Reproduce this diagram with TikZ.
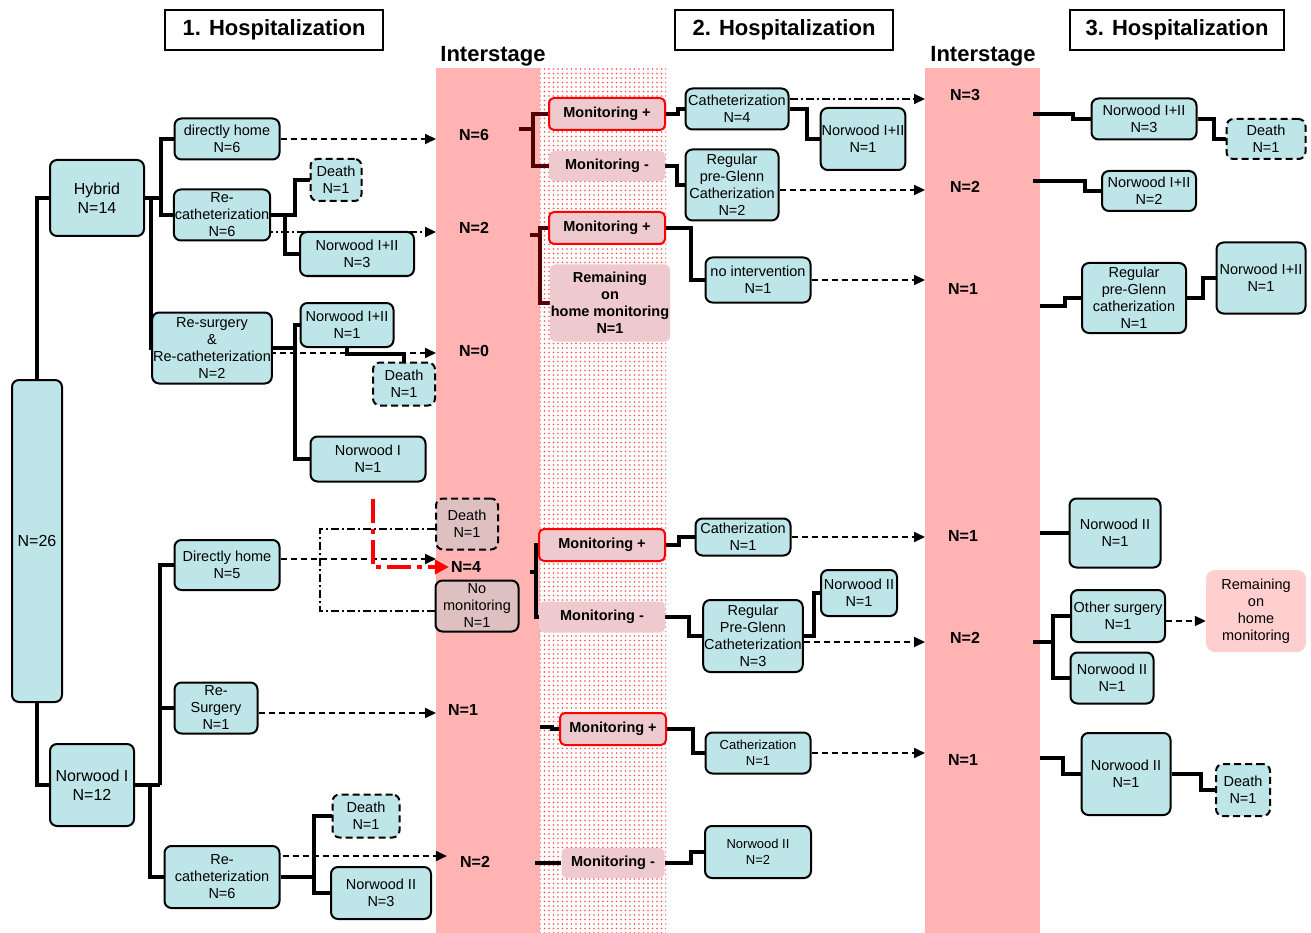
\documentclass[tikz,border=0pt]{standalone}
\usepackage{fontspec}
\setmainfont{Liberation Sans}
\usetikzlibrary{arrows.meta,patterns.meta,backgrounds}

\definecolor{boxcyan}{RGB}{190,229,232}
\definecolor{colpink}{RGB}{255,179,179}
\definecolor{rosy}{RGB}{222,192,192}
\definecolor{monfill}{RGB}{238,202,206}
\definecolor{remfill}{RGB}{255,207,207}
\definecolor{maroon}{RGB}{85,0,0}

\newcommand{\bxf}{\fontsize{14.5}{17}\selectfont}
\newcommand{\lgf}{\fontsize{16}{19}\selectfont}
\newcommand{\smf}{\fontsize{13}{16}\selectfont}
\newcommand{\bdf}{\fontsize{14.5}{17}\selectfont\bfseries}
\newcommand{\numf}{\fontsize{16}{19}\selectfont\bfseries}
\newcommand{\hdf}{\fontsize{22}{26}\selectfont\bfseries}

\tikzset{
  box/.style={draw, line width=2pt, rounded corners=7pt, fill=boxcyan, align=center, inner sep=1pt, font=\bxf},
  wh/.style 2 args={minimum width=#1, minimum height=#2},
  deathbox/.style={box, dash pattern=on 7pt off 4pt},
  rosybox/.style={box, fill=rosy},
  mon/.style={fill=monfill, rounded corners=5pt, align=center, inner sep=1pt, font=\bdf},
  monplus/.style={mon, draw=red, line width=2pt},
  num/.style={font=\numf, inner sep=2pt},
  hdbox/.style={draw, line width=1.5pt, font=\hdf},
  conn/.style={line width=4pt},
  brconn/.style={conn, draw=maroon},
  dasharr/.style={line width=2pt, dash pattern=on 6pt off 4pt, -{Triangle[length=11pt,width=10pt]}},
  ddarr/.style={dasharr, dash pattern=on 8pt off 3pt on 2pt off 3pt},
  ddthin/.style={line width=1.3pt, dash pattern=on 8pt off 3pt on 2pt off 3pt},
  redarr/.style={red, line width=4pt, dash pattern=on 24pt off 6pt on 5pt off 6pt, -{Triangle[length=14pt,width=14pt]}},
}

\begin{document}
\begin{tikzpicture}[x=1pt,y=-1pt]
\useasboundingbox (0,0) rectangle (1311,933);
% columns
\begin{scope}[on background layer]
\node[fill=colpink, wh={104}{865}, anchor=north west, inner sep=0pt, outer sep=0pt] (col1) at (436,68) {};
\node[pattern={Dots[radius=0.8pt,distance=4.5pt]}, pattern color=red!70, wh={126}{865}, anchor=north west, inner sep=0pt, outer sep=0pt] (dotcol) at (540,68) {};
\node[fill=colpink, wh={115}{865}, anchor=north west, inner sep=0pt, outer sep=0pt] (col2) at (925,68) {};
\end{scope}

% headers
\node[hdbox, wh={218}{40}] (hd1) at (274,30) {1. Hospitalization};
\node[hdbox, wh={218}{40}] (hd2) at (784,30) {2. Hospitalization};
\node[hdbox, wh={214}{40}] (hd3) at (1177,30) {3. Hospitalization};
\node[font=\hdf] (is1) at (493,56) {Interstage};
\node[font=\hdf] (is2) at (983,56) {Interstage};

% 1. hospitalization
\node[box, font=\lgf, wh={50}{322}] (n26) at (37,541) {N=26};
\node[box, font=\lgf, wh={94}{76}] (hyb) at (97,198) {Hybrid\\N=14};
\node[box, font=\lgf, wh={84}{82}] (nw1) at (92,785) {Norwood I\\N=12};
\node[box, wh={105}{41}] (dh6) at (227,139) {directly home\\N=6};
\node[box, wh={95}{51}] (rc6) at (222,215) {Re-\\catheterization\\N=6};
\node[box, wh={115}{71}] (rs2) at (212,348) {Re-surgery\\\&\\Re-catheterization\\N=2};
\node[deathbox, wh={51}{42}] (d1) at (336,180) {Death\\N=1};
\node[box, wh={114}{44}] (n12a) at (357,254) {Norwood I+II\\N=3};
\node[box, wh={93}{44}] (n12b) at (347,325) {Norwood I+II\\N=1};
\node[deathbox, wh={62}{43}] (d2) at (404,384) {Death\\N=1};
\node[box, wh={115}{45}] (nwI) at (368,459) {Norwood I\\N=1};
\node[box, wh={105}{50}] (dh5) at (227,565) {Directly home\\N=5};
\node[box, wh={83}{51}] (rsg) at (216,708) {Re-\\Surgery\\N=1};
\node[box, wh={115}{62}] (rc6b) at (222,877) {Re-\\catheterization\\N=6};
\node[deathbox, wh={67}{43}] (d3) at (366,816) {Death\\N=1};
\node[box, wh={100}{52}] (nw2a) at (381,893) {Norwood II\\N=3};

% interstage 1
\node[num] (c1a) at (474,135) {N=6};
\node[num] (c1b) at (474,228) {N=2};
\node[num] (c1c) at (474,351) {N=0};
\node[deathbox, fill=rosy, wh={62}{51}] (d4) at (467,524) {Death\\N=1};
\node[num] (c1d) at (466,567) {N=4};
\node[rosybox, wh={83}{51}] (nomon) at (477,606) {No\\monitoring\\N=1};
\node[num] (c1e) at (463,710) {N=1};
\node[num] (c1f) at (475,862) {N=2};

\node[monplus, wh={116}{32}] (mp1) at (607,114) {Monitoring +};
\node[mon, wh={116}{30}] (mm1) at (607,166) {Monitoring -};
\node[monplus, wh={116}{32}] (mp2) at (607,228) {Monitoring +};
\node[mon, wh={116}{77}] (rem1) at (610,303) {Remaining\\on\\home monitoring\\N=1};
\node[monplus, wh={126}{32}] (mp3) at (602,545) {Monitoring +};
\node[mon, wh={126}{31}] (mm3) at (602,617) {Monitoring -};
\node[monplus, wh={106}{32}] (mp4) at (613,729) {Monitoring +};
\node[mon, wh={103}{30}] (mm5) at (613,863) {Monitoring -};

% 2. hospitalization
\node[box, wh={103}{41}] (cat4) at (737,109) {Catheterization\\N=4};
\node[box, wh={84}{62}] (n12c) at (863,139) {Norwood I+II\\N=1};
\node[box, wh={93}{71}] (rpg2) at (732,185) {Regular\\pre-Glenn\\Catherization\\N=2};
\node[box, wh={105}{45}] (noint) at (758,280) {no intervention\\N=1};
\node[box, wh={95}{37}] (cat1) at (743,537) {Catherization\\N=1};
\node[box, wh={95}{72}] (rpg3) at (753,636) {Regular\\Pre-Glenn\\Catheterization\\N=3};
\node[box, wh={76}{46}] (nw2b) at (859,593) {Norwood II\\N=1};
\node[box, font=\smf, wh={105}{41}] (cat1b) at (758,753) {Catherization\\N=1};
\node[box, font=\smf, wh={106}{52}] (nw2c) at (758,852) {Norwood II\\N=2};

% interstage 2
\node[num] (c2a) at (965,95) {N=3};
\node[num] (c2b) at (965,187) {N=2};
\node[num] (c2c) at (963,289) {N=1};
\node[num] (c2d) at (963,536) {N=1};
\node[num] (c2e) at (965,638) {N=2};
\node[num] (c2f) at (963,760) {N=1};

% 3. hospitalization
\node[box, wh={105}{41}] (n12d) at (1144,119) {Norwood I+II\\N=3};
\node[deathbox, wh={79}{40}] (d5) at (1266,139) {Death\\N=1};
\node[box, wh={94}{40}] (n12e) at (1149,191) {Norwood I+II\\N=2};
\node[box, wh={104}{70}] (rpg1) at (1134,298) {Regular\\pre-Glenn\\catherization\\N=1};
\node[box, wh={89}{71}] (n12f) at (1261,278) {Norwood I+II\\N=1};
\node[box, wh={91}{69}] (nw2d) at (1115,533) {Norwood II\\N=1};
\node[box, wh={94}{52}] (osg) at (1118,616) {Other surgery\\N=1};
\node[box, wh={83}{51}] (nw2e) at (1112,678) {Norwood II\\N=1};
\node[fill=remfill, rounded corners=9pt, align=center, font=\bxf, wh={100}{82}] (remh) at (1256,611) {Remaining\\on\\home\\monitoring};
\node[box, wh={89}{82}] (nw2f) at (1126,774) {Norwood II\\N=1};
\node[deathbox, wh={54}{52}] (d6) at (1243,790) {Death\\N=1};

\begin{scope}[on background layer]
% tree of the first stay
\draw[conn] (n26.north) |- (hyb.west);
\draw[conn] (n26.south) |- (nw1.west);
\draw[conn] (hyb.east) -- ++(16,0) coordinate (hf);
\draw[conn] (dh6.west) -| (hf) |- (rc6.west);
\draw[conn] (hyb.east) -- ++(6,0) |- (rs2.west);
\draw[conn] (rc6.east) -- ++(24,0) |- (d1.west);
\draw[conn] (rc6.east) -- ++(14,0) |- (n12a.west);
\draw[conn] (rs2.east) -- ++(22,0) coordinate (rsf);
\draw[conn] (n12b.west) -| (rsf) |- (nwI.west);
\draw[conn] (n12b.south) -- ++(0,6) -| (d2.north);
\draw[conn] (nw1.east) -- ++(25,0) coordinate (nf);
\draw[conn] (dh5.west) -| (nf) |- (rsg.west);
\draw[conn] (nw1.east) -- ++(15,0) |- (rc6b.west);
\draw[conn] (rc6b.east) -- ++(33,0) coordinate (rcf);
\draw[conn] (d3.west) -| (rcf) |- (nw2a.west);

% into interstage 1
\draw[dasharr] (dh6.east) -- (dh6.east -| col1.west);
\coordinate (rca) at ([shift={(-22,17)}]rc6.east);
\draw[ddarr] (rca) -- (rca -| col1.west);
\coordinate (rsa) at ([shift={(-3,5)}]rs2.east);
\draw[dasharr] (rsa) -- (rsa -| col1.west);
\coordinate (dha) at ([shift={(0,-6)}]dh5.east);
\draw[dasharr] (dha) -- (dha -| col1.west);
\coordinate (rsb) at ([shift={(0,5)}]rsg.east);
\draw[dasharr] (rsb) -- (rsb -| col1.west);
\coordinate (rcb) at ([shift={(2,-21)}]rc6b.east);
\draw[dasharr, shorten >=11pt] (rcb) -- (rcb -| c1f.west);
\draw[ddthin] ([shift={(0,5)}]d4.west) -- ++(-115,0) |- ([shift={(0,5)}]nomon.west);
\coordinate (ra) at ([shift={(5,16)}]nwI.south);
\draw[redarr] (ra) |- (c1d.west);

% monitoring
\coordinate (r6) at ([shift={(45,-6)}]c1a.center);
\draw[brconn] (r6) -- ++(14,0) coordinate (b6);
\draw[brconn] (mp1.west) -| (b6) |- (mm1.west);
\coordinate (r2) at ([shift={(56,7)}]c1b.center);
\draw[brconn] (r2) -- ++(10,0) coordinate (b2);
\draw[brconn] (mp2.west) -| (b2) |- (rem1.west);
\coordinate (r4) at ([shift={(64,5)}]c1d.center);
\draw[conn] (r4) -- ++(6,0) coordinate (b4);
\draw[conn] (mp3.west) -| (b4) |- (mm3.west);
\coordinate (r1) at ([shift={(77,17)}]c1e.center);
\draw[conn] (r1) -- ++(12,0) |- (mp4.west);
\coordinate (r2b) at ([shift={(60,1)}]c1f.center);
\draw[conn] (r2b) -- (mm5.west);

% second stay
\draw[conn] (mp1.east) -- ++(12,0) |- (cat4.west);
\draw[conn] (cat4.east) -- ++(17,0) |- (n12c.west);
\draw[conn] (mm1.east) -- ++(12,0) |- (rpg2.west);
\draw[conn] (mp2.east) -- ++(25,0) |- (noint.west);
\draw[conn] (mp3.east) -- ++(13,0) |- (cat1.west);
\draw[conn] (mm3.east) -- ++(24,0) |- (rpg3.west);
\draw[conn] (rpg3.east) -- ++(10,0) |- (nw2b.west);
\draw[conn] (mp4.east) -- ++(26,0) |- (cat1b.west);
\draw[conn] (mm5.east) -- ++(26,0) |- (nw2c.west);

% into interstage 2
\coordinate (ca) at ([shift={(0,-10)}]cat4.east);
\draw[ddarr] (ca) -- (ca -| col2.west);
\coordinate (rpa) at ([shift={(0,5)}]rpg2.east);
\draw[dasharr] (rpa) -- (rpa -| col2.west);
\draw[dasharr] (noint.east) -- (noint.east -| col2.west);
\draw[dasharr] (cat1.east) -- (cat1.east -| col2.west);
\coordinate (rpb) at ([shift={(0,6)}]rpg3.east);
\draw[dasharr] (rpb) -- (rpb -| col2.west);
\draw[dasharr] (cat1b.east) -- (cat1b.east -| col2.west);

% third stay
\coordinate (s3) at ([shift={(68,19)}]c2a.center);
\draw[conn] (s3) -- ++(40,0) |- (n12d.west);
\draw[conn] (n12d.east) -- ++(16,0) |- (d5.west);
\coordinate (s2) at ([shift={(68,-6)}]c2b.center);
\draw[conn] (s2) -- ++(52,0) |- (n12e.west);
\coordinate (s1) at ([shift={(77,17)}]c2c.center);
\draw[conn] (s1) -- ++(25,0) |- (rpg1.west);
\draw[conn] (rpg1.east) -- ++(16,0) |- (n12f.west);
\coordinate (s1b) at ([shift={(77,-3)}]c2d.center);
\draw[conn] (s1b) -- (nw2d.west);
\coordinate (s2b) at ([shift={(68,4)}]c2e.center);
\draw[conn] (s2b) -- ++(20,0) coordinate (sf);
\draw[conn] (osg.west) -| (sf) |- (nw2e.west);
\coordinate (osa) at ([shift={(0,5)}]osg.east);
\draw[dasharr] (osa) -- (osa -| remh.west);
\coordinate (s1c) at ([shift={(77,-2)}]c2f.center);
\draw[conn] (s1c) -- ++(23,0) |- (nw2f.west);
\draw[conn] (nw2f.east) -- ++(29,0) |- (d6.west);
\end{scope}
\end{tikzpicture}
\end{document}
